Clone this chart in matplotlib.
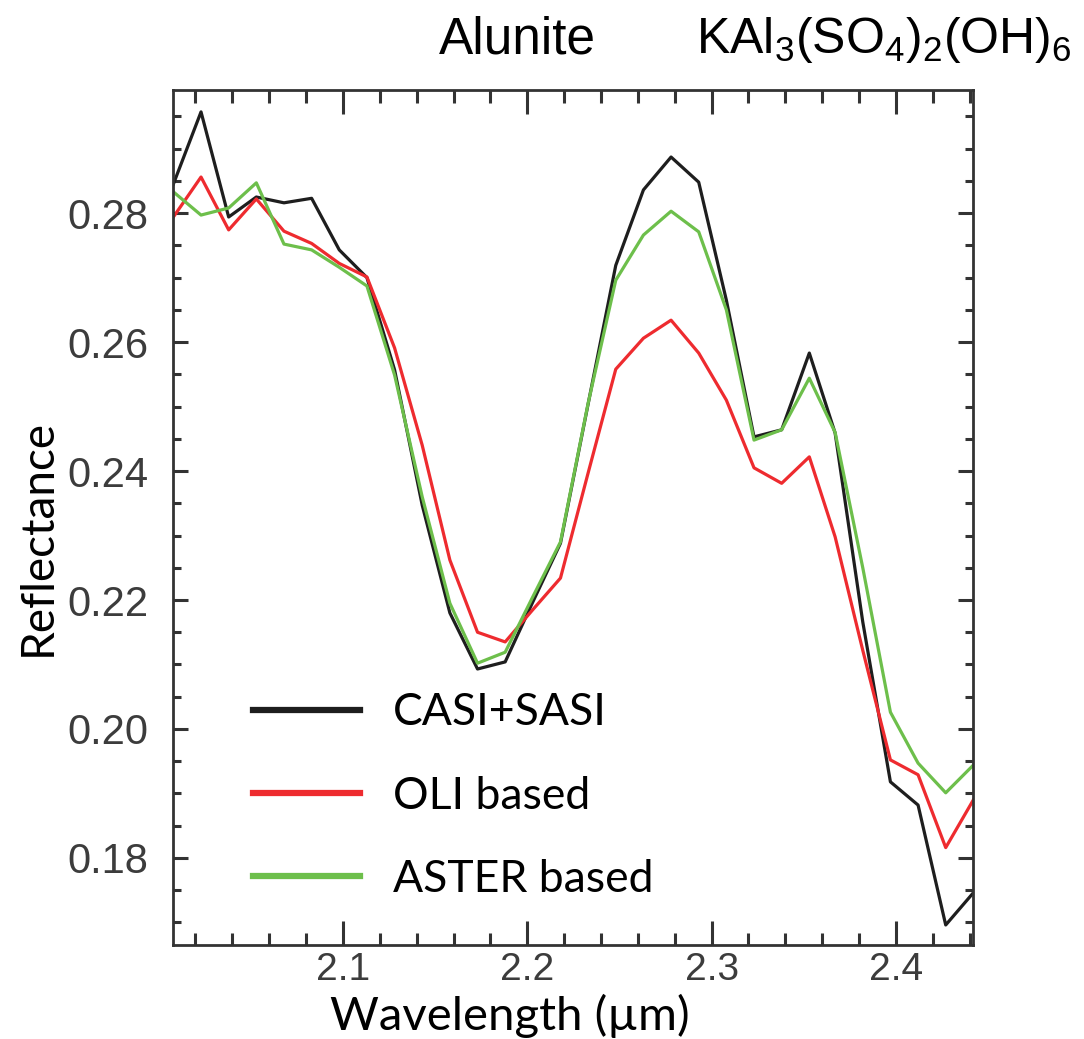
import numpy as np
import matplotlib.pyplot as plt
from matplotlib.ticker import MultipleLocator

# wavelengths (um) of the band centres
wavelength = [2.008, 2.023, 2.038, 2.053, 2.068, 2.083, 2.098, 2.113, 2.128, 2.143,
              2.158, 2.173, 2.188, 2.203, 2.218, 2.233, 2.248, 2.263, 2.278, 2.293,
              2.308, 2.323, 2.338, 2.353, 2.367, 2.382, 2.397, 2.412, 2.427, 2.442]

casi_sasi = [0.2845, 0.2957, 0.2794, 0.2825, 0.2816, 0.2823, 0.2743, 0.2700, 0.2557, 0.2347,
             0.2180, 0.2093, 0.2104, 0.2197, 0.2288, 0.2504, 0.2719, 0.2836, 0.2887, 0.2848,
             0.2665, 0.2453, 0.2464, 0.2583, 0.2459, 0.2166, 0.1918, 0.1882, 0.1696, 0.1746]

oli_based = [0.2794, 0.2856, 0.2774, 0.2822, 0.2772, 0.2753, 0.2722, 0.2701, 0.2591, 0.2440,
             0.2262, 0.2150, 0.2135, 0.2185, 0.2234, 0.2397, 0.2558, 0.2606, 0.2634, 0.2583,
             0.2510, 0.2405, 0.2381, 0.2422, 0.2298, 0.2122, 0.1952, 0.1929, 0.1816, 0.1890]

aster_based = [0.2833, 0.2797, 0.2808, 0.2847, 0.2752, 0.2743, 0.2716, 0.2687, 0.2549, 0.2360,
               0.2195, 0.2102, 0.2119, 0.2205, 0.2290, 0.2505, 0.2696, 0.2766, 0.2803, 0.2771,
               0.2650, 0.2448, 0.2464, 0.2544, 0.2460, 0.2250, 0.2026, 0.1947, 0.1901, 0.1944]

labels = ['CASI+SASI', 'OLI based', 'ASTER based']
colors = ['#1e1e1e', '#ee2b2f', '#6dbf4b']

plt.rcParams['mathtext.fontset'] = 'custom'
plt.rcParams['mathtext.rm'] = 'Liberation Sans'
plt.rcParams['mathtext.it'] = 'Liberation Sans'

fig = plt.figure(figsize=(10.84, 10.39), dpi=100)
ax = fig.add_axes([0.1596, 0.0905, 0.738, 0.8229])

for ys, c, lab in zip([casi_sasi, oli_based, aster_based], colors, labels):
    ax.plot(wavelength, ys, color=c, lw=2.3, label=lab)

ax.set_xlim(2.0078, 2.4418)
ax.set_ylim(0.1665, 0.2991)
ax.xaxis.set_major_locator(MultipleLocator(0.1))
ax.xaxis.set_minor_locator(MultipleLocator(0.02))
ax.yaxis.set_major_locator(MultipleLocator(0.02))
ax.yaxis.set_minor_locator(MultipleLocator(0.005))
ax.set_xticks([2.1, 2.2, 2.3, 2.4])
ax.set_xticklabels(['2.1', '2.2', '2.3', '2.4'])
ax.set_yticks([0.18, 0.20, 0.22, 0.24, 0.26, 0.28])
ax.set_yticklabels(['0.18', '0.20', '0.22', '0.24', '0.26', '0.28'])

ax.tick_params(axis='x', which='major', direction='in', top=True, bottom=True,
               length=17, width=2.2, color='#333333', labelsize=28, labelcolor='#3c3c3c', pad=5)
ax.tick_params(axis='x', which='minor', direction='in', top=True, bottom=True,
               length=9, width=2.2, color='#333333')
ax.tick_params(axis='y', which='major', direction='in', left=True, right=True,
               length=11, width=2.2, color='#333333', labelsize=30, labelcolor='#3c3c3c', pad=18)
ax.tick_params(axis='y', which='minor', direction='in', left=True, right=True,
               length=6, width=2.2, color='#333333')
for lab in ax.get_xticklabels() + ax.get_yticklabels():
    lab.set_fontfamily('Liberation Sans')
for s in ax.spines.values():
    s.set_linewidth(2)
    s.set_color('#333333')

# axis titles sit a little off the axes centre in the original
fig.text(0.47, 0.0085, 'Wavelength (µm)', fontsize=34, fontfamily='Lato',
         ha='center', va='baseline')
fig.text(0.035, 1 - 537 / 1039, 'Reflectance', fontsize=33, fontfamily='Lato',
         rotation=90, ha='center', va='center')

leg = ax.legend(loc='lower left', bbox_to_anchor=(0.05, 0.006), frameon=False,
                prop={'family': 'Lato', 'size': 32}, handlelength=2.4,
                handletextpad=0.75, labelspacing=0.95)
for h in leg.get_lines():
    h.set_linewidth(4.5)

fig.text(0.477, 0.9615, 'Alunite', fontsize=37, fontfamily='Liberation Sans', ha='center', va='center')
fig.text(0.642, 0.9615, r'KAl$_3$(SO$_4$)$_2$(OH)$_6$', fontsize=36,
         fontfamily='Liberation Sans', ha='left', va='center')

fig.savefig('out.png', dpi=100)
